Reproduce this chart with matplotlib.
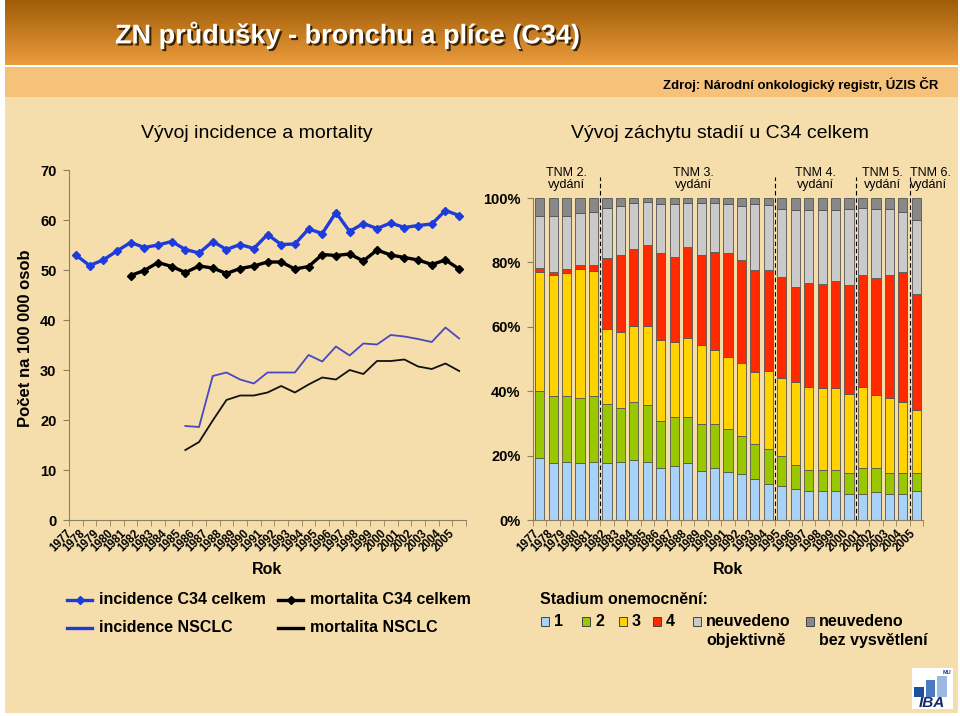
import numpy as np
import matplotlib.pyplot as plt
from matplotlib.patches import Rectangle
from matplotlib.lines import Line2D
from matplotlib.colors import LinearSegmentedColormap
from matplotlib.transforms import ScaledTranslation
from matplotlib import patheffects

plt.rcParams['font.family'] = ['Liberation Sans', 'DejaVu Sans']

W, H = 960, 716
nan = np.nan

years = list(range(1977, 2006))

# left chart: rates per 100 000 persons
incidence_c34 = [53.0, 50.9, 52.0, 53.8, 55.5, 54.5, 55.0, 55.7, 54.1, 53.4, 55.7, 54.1, 55.1, 54.3, 57.1,
                 55.1, 55.2, 58.2, 57.3, 61.5, 57.7, 59.3, 58.3, 59.4, 58.5, 58.9, 59.2, 61.9, 60.9]
mortality_c34 = [nan] * 4 + [48.9, 49.9, 51.5, 50.7, 49.5, 50.8, 50.4, 49.3, 50.3, 50.8, 51.6, 51.6, 50.2,
                             50.7, 53.1, 52.9, 53.2, 51.8, 54.0, 53.0, 52.5, 52.0, 51.1, 52.0, 50.2]
incidence_nsclc = [nan] * 8 + [18.8, 18.6, 28.8, 29.5, 28.1, 27.3, 29.5, 29.5, 29.5, 33.0, 31.7, 34.7, 32.9,
                               35.3, 35.1, 37.0, 36.7, 36.2, 35.6, 38.5, 36.3]
mortality_nsclc = [nan] * 8 + [14.0, 15.6, 19.9, 24.0, 24.9, 24.9, 25.5, 26.8, 25.5, 27.1, 28.5, 28.1, 30.0,
                               29.2, 31.8, 31.8, 32.1, 30.7, 30.2, 31.3, 29.8]

# right chart: share of stages (%)
stage1 = [19.1, 17.7, 18.0, 17.7, 18.0, 17.7, 18.0, 18.6, 18.0, 16.3, 16.7, 17.7, 15.2, 16.3, 14.9,
          14.4, 12.8, 11.3, 10.5, 9.5, 9.1, 9.1, 9.1, 8.2, 8.2, 8.8, 8.2, 8.2, 9.1]
stage2 = [21.1, 20.7, 20.4, 20.2, 20.4, 18.4, 16.8, 18.1, 17.8, 14.6, 15.4, 14.4, 14.7, 13.6, 13.3,
          11.8, 10.9, 10.7, 9.5, 7.7, 6.4, 6.4, 6.4, 6.4, 7.8, 7.2, 6.4, 6.4, 5.5]
stage3 = [36.9, 37.7, 38.4, 40.2, 38.9, 23.1, 23.7, 23.4, 24.3, 25.1, 23.1, 24.4, 24.3, 22.9, 22.3,
          22.5, 22.2, 24.2, 24.1, 25.6, 25.9, 25.5, 25.5, 24.6, 25.4, 22.7, 23.2, 22.2, 19.6]
stage4 = [1.3, 0.8, 1.0, 1.0, 1.8, 22.1, 23.7, 24.0, 25.3, 27.0, 26.6, 28.3, 28.0, 30.3, 32.3,
          32.2, 31.7, 31.4, 31.5, 29.7, 32.3, 32.3, 33.2, 33.8, 34.7, 36.6, 38.3, 40.2, 36.0]
unknown_obj = [15.9, 17.4, 16.5, 16.3, 16.7, 15.6, 15.3, 14.5, 13.4, 15.0, 16.4, 13.8, 16.4, 15.5, 15.4,
               16.6, 20.4, 20.1, 21.1, 23.7, 22.5, 22.9, 22.0, 23.7, 20.9, 21.4, 20.6, 18.7, 22.9]
unknown_none = [5.7, 5.7, 5.7, 4.6, 4.2, 3.1, 2.5, 1.4, 1.2, 2.0, 1.8, 1.4, 1.4, 1.4, 1.8,
                2.5, 2.0, 2.3, 3.3, 3.8, 3.8, 3.8, 3.8, 3.3, 3.0, 3.3, 3.3, 4.3, 6.9]
tnm_edition = [2] * 5 + [3] * 13 + [4] * 6 + [5] * 4 + [6]

stage_names = ['1', '2', '3', '4', 'neuvedeno\nobjektivně', 'neuvedeno\nbez vysvětlení']
stage_colors = ['#A9D2F8', '#99C800', '#FFD200', '#FF2A00', '#CACACA', '#888888']

BG = '#F5DEAB'
SPINE = '#8C8060'


def rect(x0, y0, x1, y1, **kw):
    fig.add_artist(Rectangle((x0 / W, 1 - y1 / H), (x1 - x0) / W, (y1 - y0) / H,
                             transform=fig.transFigure, **kw))


def ftext(x, y, s, **kw):
    return fig.text(x / W, 1 - y / H, s, **kw)


fig = plt.figure(figsize=(9.6, 7.16), dpi=100)
fig.patch.set_facecolor('white')

# background / header
rect(5, 97, 958, 713, facecolor=BG, edgecolor='none', zorder=-10)
rect(5, 67, 958, 97, facecolor='#F6C27A', edgecolor='none', zorder=-10)
hax = fig.add_axes([5 / W, 1 - 65 / H, 953 / W, 65 / H], zorder=-5)
cmap = LinearSegmentedColormap.from_list('hdr', ['#A05C08', '#EB9C3C'])
hax.imshow(np.linspace(0, 1, 100).reshape(-1, 1), cmap=cmap, aspect='auto', extent=[0, 1, 0, 1])
hax.axis('off')

title = ftext(115, 35, 'ZN průdušky - bronchu a plíce (C34)', fontsize=19.5,
              fontweight='bold', color='white', va='center', ha='left')
title.set_path_effects([patheffects.SimplePatchShadow(offset=(1.5, -1.5), shadow_rgbFace='#2A1800', alpha=0.9),
                        patheffects.Normal()])
ftext(938, 84, 'Zdroj: Národní onkologický registr, ÚZIS ČR', fontsize=9.5, fontweight='bold',
      ha='right', va='center')

ftext(257, 133, 'Vývoj incidence a mortality', fontsize=14, ha='center', va='center')
ftext(720, 133, 'Vývoj záchytu stadií u C34 celkem', fontsize=14, ha='center', va='center')

x = np.arange(len(years))


def style_axis(ax, dx):
    ax.set_facecolor('none')
    for s in ['top', 'right']:
        ax.spines[s].set_visible(False)
    for s in ['left', 'bottom']:
        ax.spines[s].set_color(SPINE)
    ax.set_xlim(-0.5, len(years) - 0.5)
    ax.set_xticks(x)
    ax.set_xticks(np.arange(-0.5, len(years), 1), minor=True)
    ax.tick_params(axis='x', which='major', length=0, pad=4)
    ax.tick_params(axis='x', which='minor', length=4, color=SPINE)
    ax.tick_params(axis='y', length=4, color=SPINE, labelsize=10.5, pad=5)
    ax.set_xticklabels([str(y) for y in years], rotation=45, ha='right', va='center',
                       rotation_mode='anchor', fontsize=8.3, fontweight='bold')
    for lab in ax.get_xticklabels():
        lab.set_transform(lab.get_transform() + ScaledTranslation(dx / 100, -6 / 100, fig.dpi_scale_trans))
    for lab in ax.get_yticklabels():
        lab.set_fontweight('bold')
    ax.set_xlabel('Rok', fontsize=11.5, fontweight='bold', labelpad=6)


# left chart
ax1 = fig.add_axes([69 / W, 1 - 520 / H, 397 / W, 350 / H])
ax1.plot(x, incidence_c34, color='#1E3CDC', lw=2.4, marker='D', ms=4.5)
ax1.plot(x, mortality_c34, color='black', lw=2.4, marker='D', ms=4.5)
ax1.plot(x, incidence_nsclc, color='#4848C0', lw=1.3)
ax1.plot(x, mortality_nsclc, color='#111111', lw=1.3)
ax1.set_ylim(0, 70)
ax1.set_yticks(range(0, 71, 10))
style_axis(ax1, -6)
ftext(26, 338, 'Počet na 100 000 osob', fontsize=12, fontweight='bold', rotation=90,
      ha='center', va='center')

# right chart
ax2 = fig.add_axes([533 / W, 1 - 520 / H, 390 / W, 322 / H])
bottom = np.zeros(len(years))
for vals, col in zip([stage1, stage2, stage3, stage4, unknown_obj, unknown_none], stage_colors):
    ax2.bar(x, vals, bottom=bottom, width=0.68, color=col, edgecolor='#555555', linewidth=0.6)
    bottom += np.array(vals)
ax2.set_ylim(0, 100)
ax2.set_yticks(range(0, 101, 20))
ax2.set_yticklabels([f'{v}%' for v in range(0, 101, 20)])
style_axis(ax2, -2)

# TNM edition separators and labels
for i, ed in enumerate(sorted(set(tnm_edition))):
    idx = [k for k, e in enumerate(tnm_edition) if e == ed]
    if i > 0:
        ax2.vlines(idx[0] - 0.5, 0, 106.5, colors='black', linestyles=(0, (4, 2.5)), lw=0.8, clip_on=False)
    if len(idx) == 1:
        ax2.text(idx[0] - 0.45, 105.9, f'TNM {ed}.\nvydání', ha='left', va='center', fontsize=9,
                 linespacing=1.0)
    else:
        ax2.text(np.mean(idx) + (0.4 if ed == 3 else 0), 105.9, f'TNM {ed}.\nvydání', ha='center',
                 va='center', fontsize=9, linespacing=1.0)

# left legend
leg_items = [
    (67, 600, '#1E3CDC', True, 'incidence C34 celkem'),
    (278, 600, 'black', True, 'mortalita C34 celkem'),
    (67, 628, '#1E3CDC', False, 'incidence NSCLC'),
    (278, 628, 'black', False, 'mortalita NSCLC'),
]
for lx, ly, col, mk, lab in leg_items:
    fig.add_artist(Line2D([lx / W, (lx + 12.5) / W, (lx + 25) / W], [1 - ly / H] * 3, color=col, lw=2.4,
                          marker='D' if mk else None, ms=4.5, markevery=[1], transform=fig.transFigure))
    ftext(lx + 32, ly, lab, fontsize=11.5, fontweight='bold', ha='left', va='center')

# right legend
ftext(540, 600, 'Stadium onemocnění:', fontsize=11.5, fontweight='bold', ha='left', va='center')
box_x = [541, 582, 619, 653, 693, 806]
for bx, col, name in zip(box_x, stage_colors, stage_names):
    rect(bx, 617, bx + 8, 626, facecolor=col, edgecolor='#444444', lw=0.7)
    for j, ln in enumerate(name.split('\n')):
        ftext(bx + 13, 622 + 19 * j, ln, fontsize=11.5, fontweight='bold', ha='left', va='center')

# logo
rect(912, 668, 953, 709, facecolor='white', edgecolor='none')
rect(914, 687, 924, 697, facecolor='#1F4E9A', edgecolor='none')
rect(926, 680, 935, 697, facecolor='#4C7CC0', edgecolor='none')
rect(937, 676, 947, 697, facecolor='#9DB8E0', edgecolor='none')
ftext(947, 672, 'MU', fontsize=4, fontweight='bold', color='#1F3F80', ha='center', va='center')
ftext(932, 703, 'IBA', fontsize=11, fontweight='bold', style='italic', color='#14286B', ha='center', va='center')

fig.savefig('out.png', dpi=100, facecolor=fig.get_facecolor())
